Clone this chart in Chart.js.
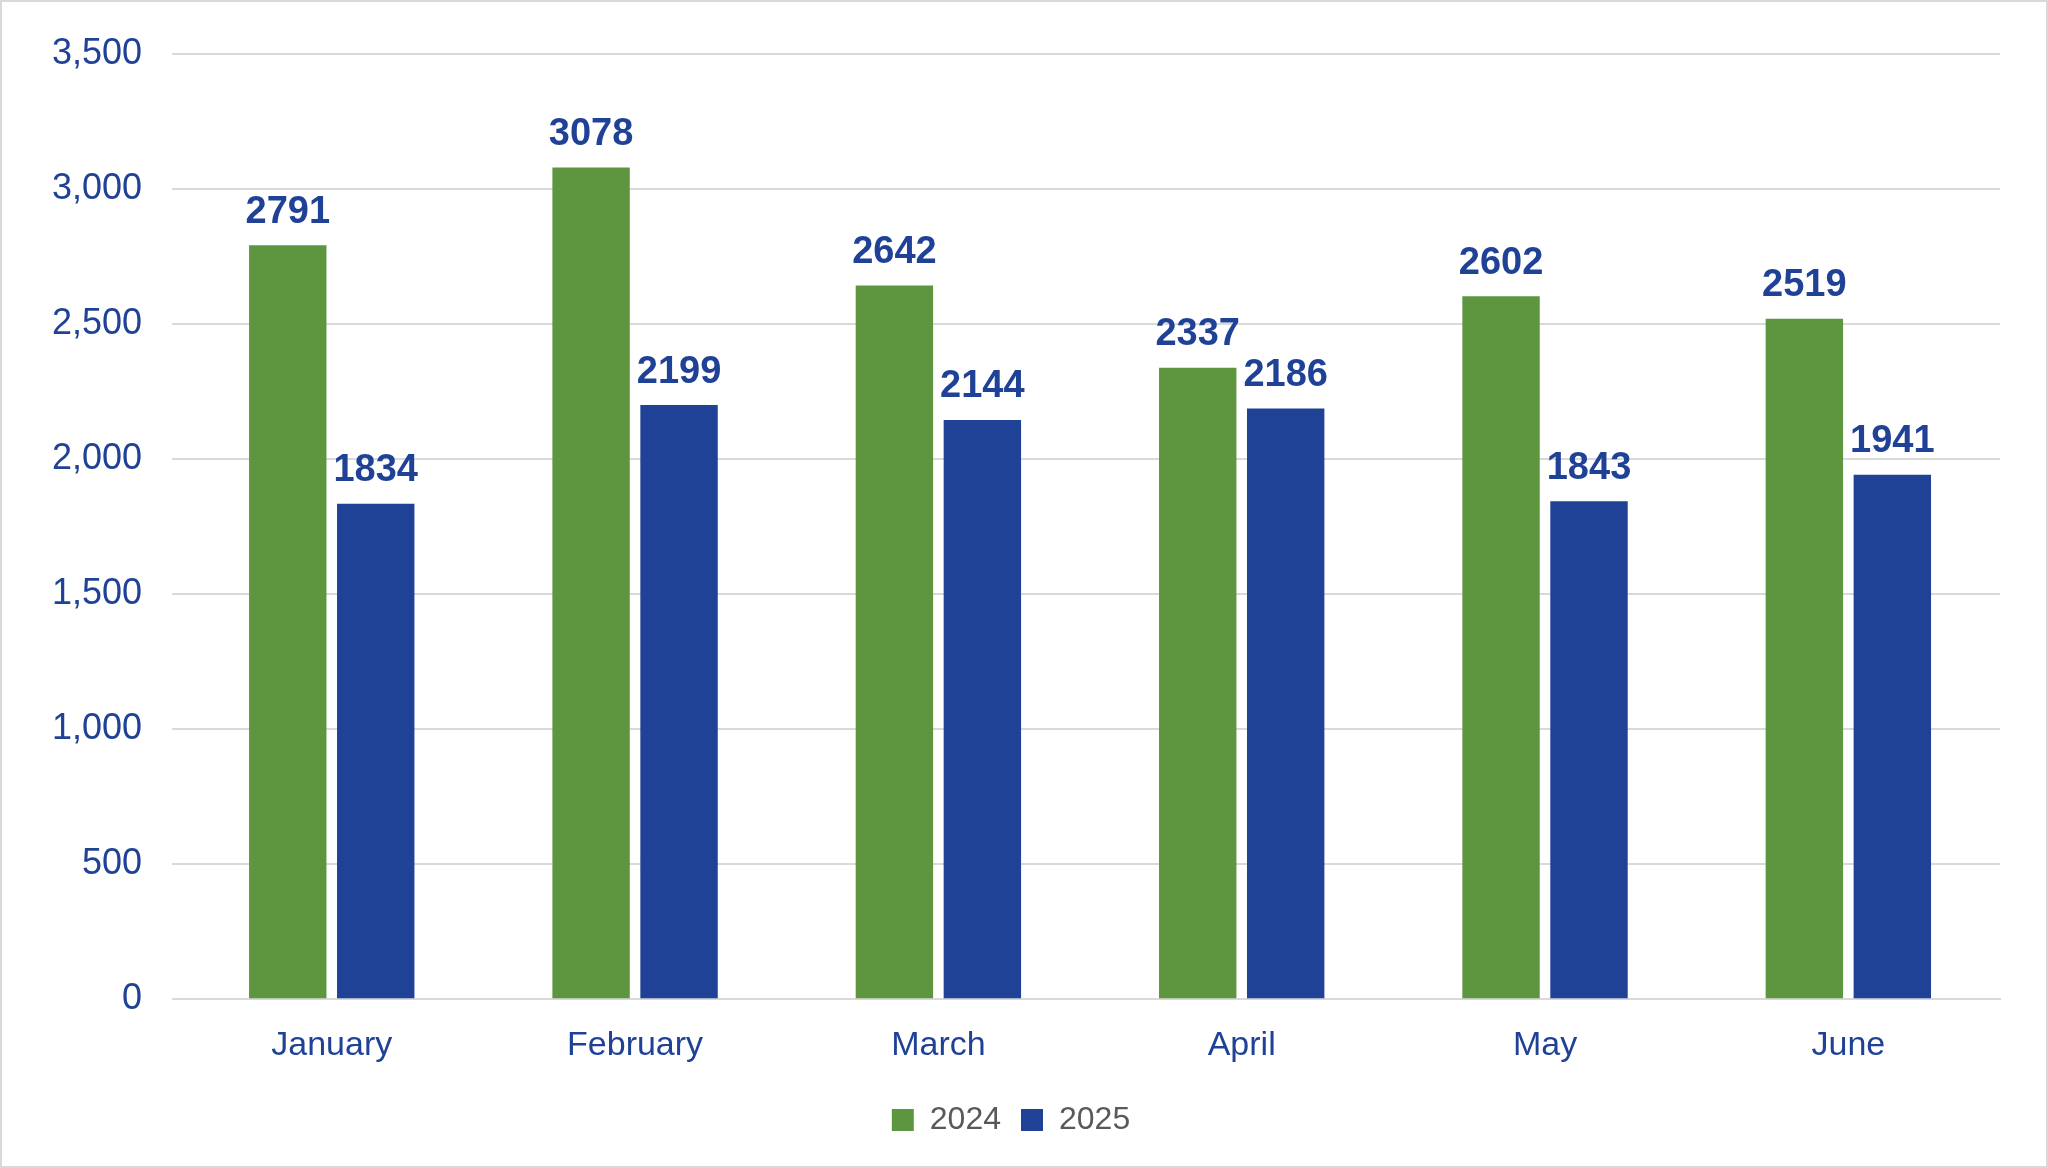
<!DOCTYPE html>
<html>
<head>
<meta charset="utf-8">
<script src="https://cdn.jsdelivr.net/npm/chart.js@4/dist/chart.umd.min.js"></script>
<style>
  html, body { margin: 0; padding: 0; background: #fff; }
  #wrap { width: 2044px; height: 1164px; border: 2px solid #d9d9d9; }
</style>
</head>
<body>
<div id="wrap"><canvas id="salesChart" width="2044" height="1164"></canvas></div>
<script>
const months = ['January', 'February', 'March', 'April', 'May', 'June'];
const sales2024 = [2791, 3078, 2642, 2337, 2602, 2519];
const sales2025 = [1834, 2199, 2144, 2186, 1843, 1941];

const blue = '#1F4196';
const green = '#5E9640';

// value labels above each bar
const barLabels = {
    id: 'barLabels',
    afterDatasetsDraw(chart) {
        const ctx = chart.ctx;
        ctx.save();
        ctx.font = 'bold 38px Arial, "Liberation Sans", sans-serif';
        ctx.fillStyle = blue;
        ctx.textAlign = 'center';
        ctx.textBaseline = 'bottom';
        chart.data.datasets.forEach((ds, i) => {
            chart.getDatasetMeta(i).data.forEach((bar, j) => {
                ctx.fillText(ds.data[j], bar.x, bar.y - 14);
            });
        });
        ctx.restore();
    }
};

new Chart(document.getElementById('salesChart'), {
    type: 'bar',
    data: {
        labels: months,
        datasets: [
            { label: '2024', data: sales2024, backgroundColor: green },
            { label: '2025', data: sales2025, backgroundColor: blue }
        ]
    },
    options: {
        responsive: false,
        animation: false,
        datasets: { bar: { barPercentage: 0.88, categoryPercentage: 0.58 } },
        layout: { padding: { left: 20, right: 46, top: 36, bottom: 20 } },
        plugins: {
            legend: {
                position: 'bottom',
                labels: {
                    color: '#595959',
                    font: { size: 32, family: 'Arial, "Liberation Sans", sans-serif' },
                    boxWidth: 22,
                    boxHeight: 22,
                    padding: 20
                }
            },
            tooltip: { enabled: false }
        },
        scales: {
            y: {
                min: 0,
                max: 3500,
                ticks: {
                    stepSize: 500,
                    color: blue,
                    padding: 30,
                    font: { size: 36, family: 'Arial, "Liberation Sans", sans-serif' }
                },
                grid: { color: '#d9d9d9', lineWidth: 2 },
                border: { display: false }
            },
            x: {
                ticks: {
                    color: blue,
                    padding: 18,
                    font: { size: 34, family: 'Arial, "Liberation Sans", sans-serif' }
                },
                grid: { display: false },
                border: { color: '#d9d9d9', width: 2 }
            }
        }
    },
    plugins: [barLabels]
});
</script>
</body>
</html>
